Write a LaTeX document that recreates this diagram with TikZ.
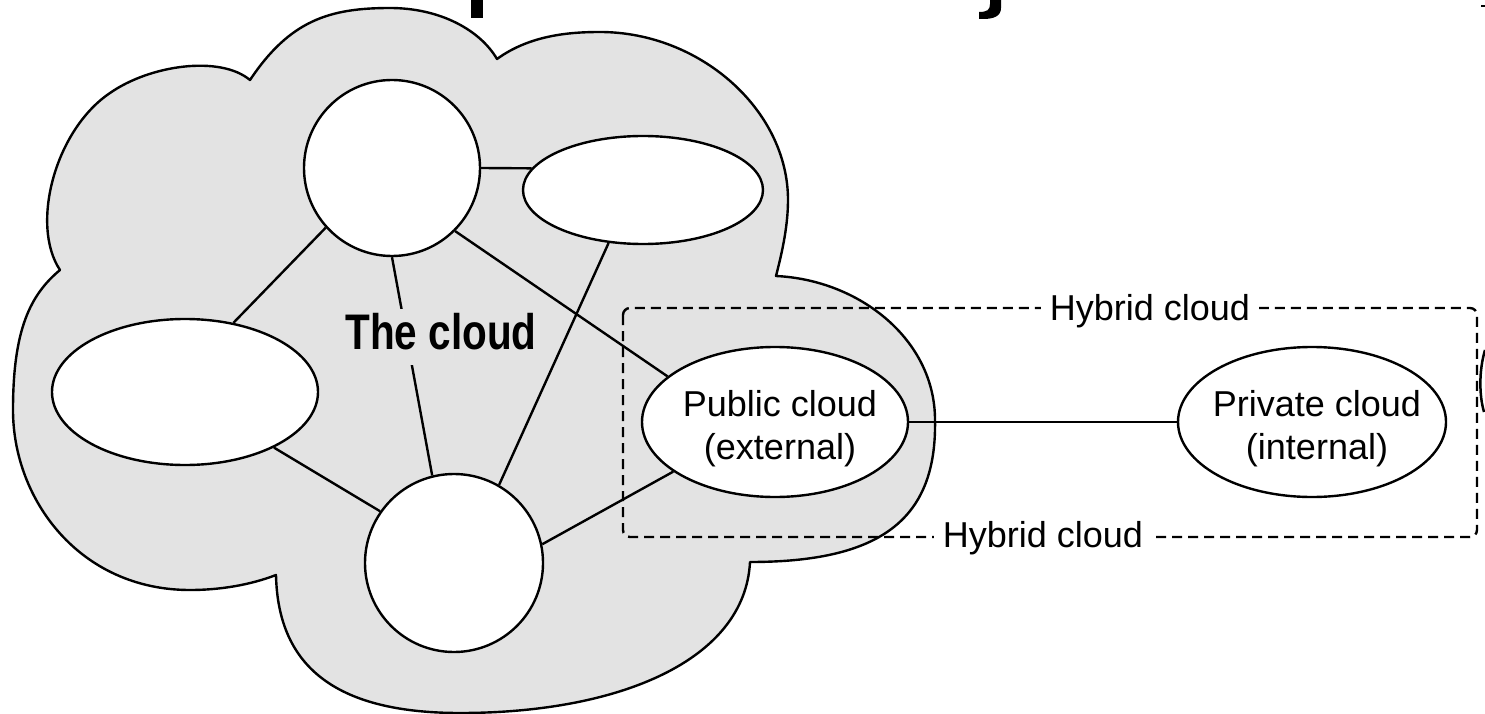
\documentclass[tikz,border=0pt]{standalone}
\usepackage{fontspec}
\setmainfont{Liberation Sans}
\newfontfamily\condsans[FakeStretch=0.81]{Liberation Sans}
\usetikzlibrary{shapes.geometric}
\definecolor{cloudfill}{RGB}{227,227,227}

\tikzset{
  cloudshape/.style={fill=cloudfill, draw=black, line width=2.4pt, line join=round},
  netnode/.style={ellipse, draw=black, line width=2.4pt, fill=white, inner sep=0pt},
  link/.style={draw=black, line width=2.4pt},
  hybridbox/.style={draw=black, line width=2.4pt, dash pattern=on 10pt off 6pt, rounded corners=7pt},
  tagtext/.style={inner sep=0pt, font=\fontsize{36}{43}\selectfont, align=center},
  hlabel/.style={fill=white, inner xsep=9pt, inner ysep=3pt, font=\fontsize{36}{43}\selectfont},
  bigtag/.style={fill=cloudfill, inner xsep=4pt, inner ysep=4pt, text depth=12pt,
                 font=\condsans\bfseries\fontsize{50}{60}\selectfont},
  ink/.style={fill=black, draw=none}
}

\begin{document}
\begin{tikzpicture}[x=1pt, y=-1pt]
\useasboundingbox (0,0) rectangle (1485,714);

% cropped lettering along the top edge
\fill[ink] (471,0) rectangle (483,18);
\fill[ink] (990,0) -- (1001,0) -- (1001,8)
  .. controls (1001,16) and (994,19) .. (983,19) -- (979,19) -- (979,12)
  .. controls (987,12) and (990,10) .. (990,4) -- cycle;
\fill[ink] (1481,5.5) rectangle (1485,7);
\draw[line width=2.5pt] (1485,350) .. controls (1479,370) and (1479,395) .. (1484,412);

% the cloud outline
\path[cloudshape] (776,276)
  .. controls (860,280) and (935,340) .. (935,420)
  .. controls (937,520) and (880,562) .. (750,562)
  .. controls (745,660) and (620,713) .. (460,713)
  .. controls (340,713) and (278,670) .. (276,575)
  .. controls (250,585) and (220,590) .. (190,590)
  .. controls (80,590) and (13,500) .. (13,410)
  .. controls (13,330) and (30,295) .. (60,270)
  .. controls (30,225) and (55,130) .. (110,93)
  .. controls (150,65) and (220,55) .. (250,80)
  .. controls (290,20) and (330,8) .. (390,8)
  .. controls (440,8) and (480,30) .. (497,59)
  .. controls (530,35) and (570,32) .. (600,32)
  .. controls (700,32) and (788,110) .. (788,200)
  .. controls (788,230) and (780,260) .. (776,276) -- cycle;

% network nodes
\node[netnode, minimum width=176pt, minimum height=176pt] (tc) at (392,168) {};
\node[netnode, minimum width=240pt, minimum height=108pt] (te) at (643,190) {};
\node[netnode, minimum width=266pt, minimum height=146pt] (le) at (185,392) {};
\node[netnode, minimum width=178pt, minimum height=178pt] (bc) at (454,563) {};
\node[netnode, minimum width=266pt, minimum height=150pt] (pc) at (775,422) {};
\node[netnode, minimum width=268pt, minimum height=150pt] (pv) at (1312,422) {};

\node[tagtext] (pctext) at (780,429) {Public cloud\\(external)};
\node[tagtext] (pvtext) at (1317,429) {Private cloud\\(internal)};

% links between the nodes
\draw[link] (tc.east) -- (te.169);
\draw[link] (tc.222) -- (le.55);
\draw[link] (tc.270) -- (bc.104);
\draw[link] (tc.315) -- (pc.157);
\draw[link] (te.237) -- (bc.60);
\draw[link] (le.328) -- (bc.145);
\draw[link] (bc.12) -- (pc.206);
\draw[link] (pc.east) -- (pv.west);

\node[bigtag, anchor=base] (cloudtag) at (441,349) {The cloud};

% hybrid cloud frame
\coordinate (hbnw) at (623,308);
\coordinate (hbse) at (1477,537);
\draw[hybridbox] (hbnw) rectangle (hbse);
\node[hlabel, anchor=base] (hytop) at (1150,320) {Hybrid cloud};
\node[hlabel, anchor=base] (hybot) at (1043,547) {Hybrid cloud};
\end{tikzpicture}
\end{document}
